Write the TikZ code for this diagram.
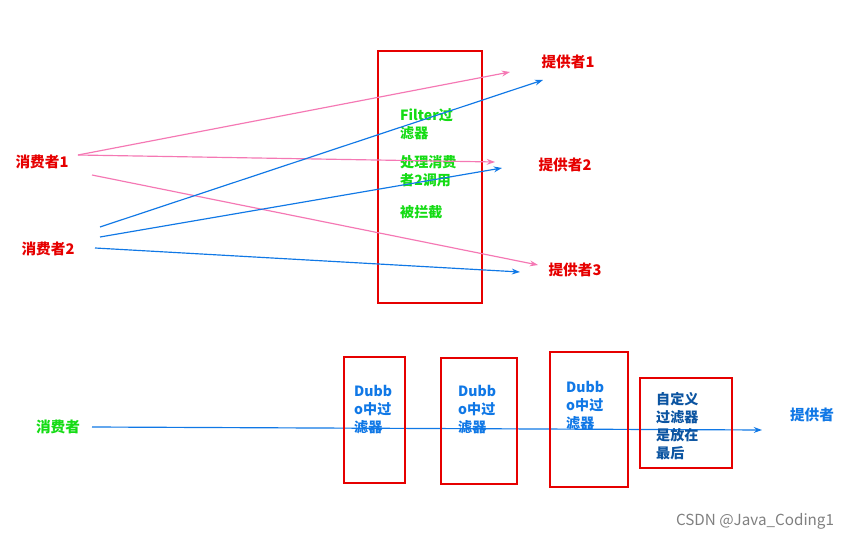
\documentclass[tikz,border=0pt]{standalone}
\usepackage{fontspec}
\setmainfont{Liberation Sans}
\newfontfamily\cjk{Noto Sans CJK SC}
\usetikzlibrary{arrows.meta}
\definecolor{myred}{RGB}{230,0,0}
\definecolor{mygreen}{RGB}{20,220,20}
\definecolor{myblue}{RGB}{16,120,230}
\definecolor{mypink}{RGB}{245,120,180}
\begin{document}
\begin{tikzpicture}[x=0.03cm,y=-0.03cm,
  lbl/.style={font=\cjk\bfseries\fontsize{12.5}{14}\selectfont,inner sep=0pt},
  box/.style={draw=myred,line width=1.6pt},
  txt/.style={font=\cjk\bfseries\fontsize{12}{15.5}\selectfont,align=left,anchor=north west,inner sep=0pt},
  pk/.style={draw=mypink,line width=1pt,-{Stealth[length=7pt,width=5pt]}},
  bl/.style={draw=myblue,line width=1pt,-{Stealth[length=7pt,width=5pt]}}]
\useasboundingbox[fill=white] (0,0) rectangle (867,541);
\draw[box] (378,51) rectangle (482,303);
\node[txt,text=mygreen] (t1) at (400,108) {Filter过\\滤器};
\node[txt,text=mygreen] (t2) at (400,155) {处理消费\\者2调用};
\node[txt,text=mygreen] (t3) at (400,205) {被拦截};
\node[lbl,text=myred] (c1) at (42,162) {消费者1};
\node[lbl,text=myred] (c2) at (48,249) {消费者2};
\node[lbl,text=myred] (p1) at (568,62) {提供者1};
\node[lbl,text=myred] (p2) at (565,165) {提供者2};
\node[lbl,text=myred] (p3) at (575,270) {提供者3};
\coordinate (a1) at (78,155); \coordinate (a2) at (92,175);
\coordinate (b1) at (100,227); \coordinate (b2) at (100,237); \coordinate (b3) at (95,248);
\coordinate (e1) at (510,72); \coordinate (e2) at (495,162); \coordinate (e3) at (538,265);
\coordinate (f1) at (543,80); \coordinate (f2) at (502,168); \coordinate (f3) at (520,272);
\draw[pk] (a1) -- (e1);
\draw[pk] (a1) -- (e2);
\draw[pk] (a2) -- (e3);
\draw[bl] (b1) -- (f1);
\draw[bl] (b2) -- (f2);
\draw[bl] (b3) -- (f3);
\node[lbl,text=mygreen] (c) at (58,427) {消费者};
\node[lbl,text=myblue] (p) at (812,415) {提供者};
\coordinate (s) at (92,427); \coordinate (t) at (762,430);
\draw[bl] (s) -- (t);
\draw[box] (344,357) rectangle (405,483);
\draw[box] (441,358) rectangle (517,484);
\draw[box] (550,352) rectangle (628,487);
\draw[box] (640,378) rectangle (732,468);
\node[txt,text=myblue] (d1) at (354,385) {Dubb\\o中过\\滤器};
\node[txt,text=myblue] (d2) at (458,385) {Dubb\\o中过\\滤器};
\node[txt,text=myblue] (d3) at (566,381) {Dubb\\o中过\\滤器};
\node[txt,text=myblue!70!black] (d4) at (656,392) {自定义\\过滤器\\是放在\\最后};
\node[font=\cjk\fontsize{13}{15}\selectfont,text=gray,inner sep=0pt] (w) at (755,521) {CSDN @Java\_Coding1};
\end{tikzpicture}
\end{document}
